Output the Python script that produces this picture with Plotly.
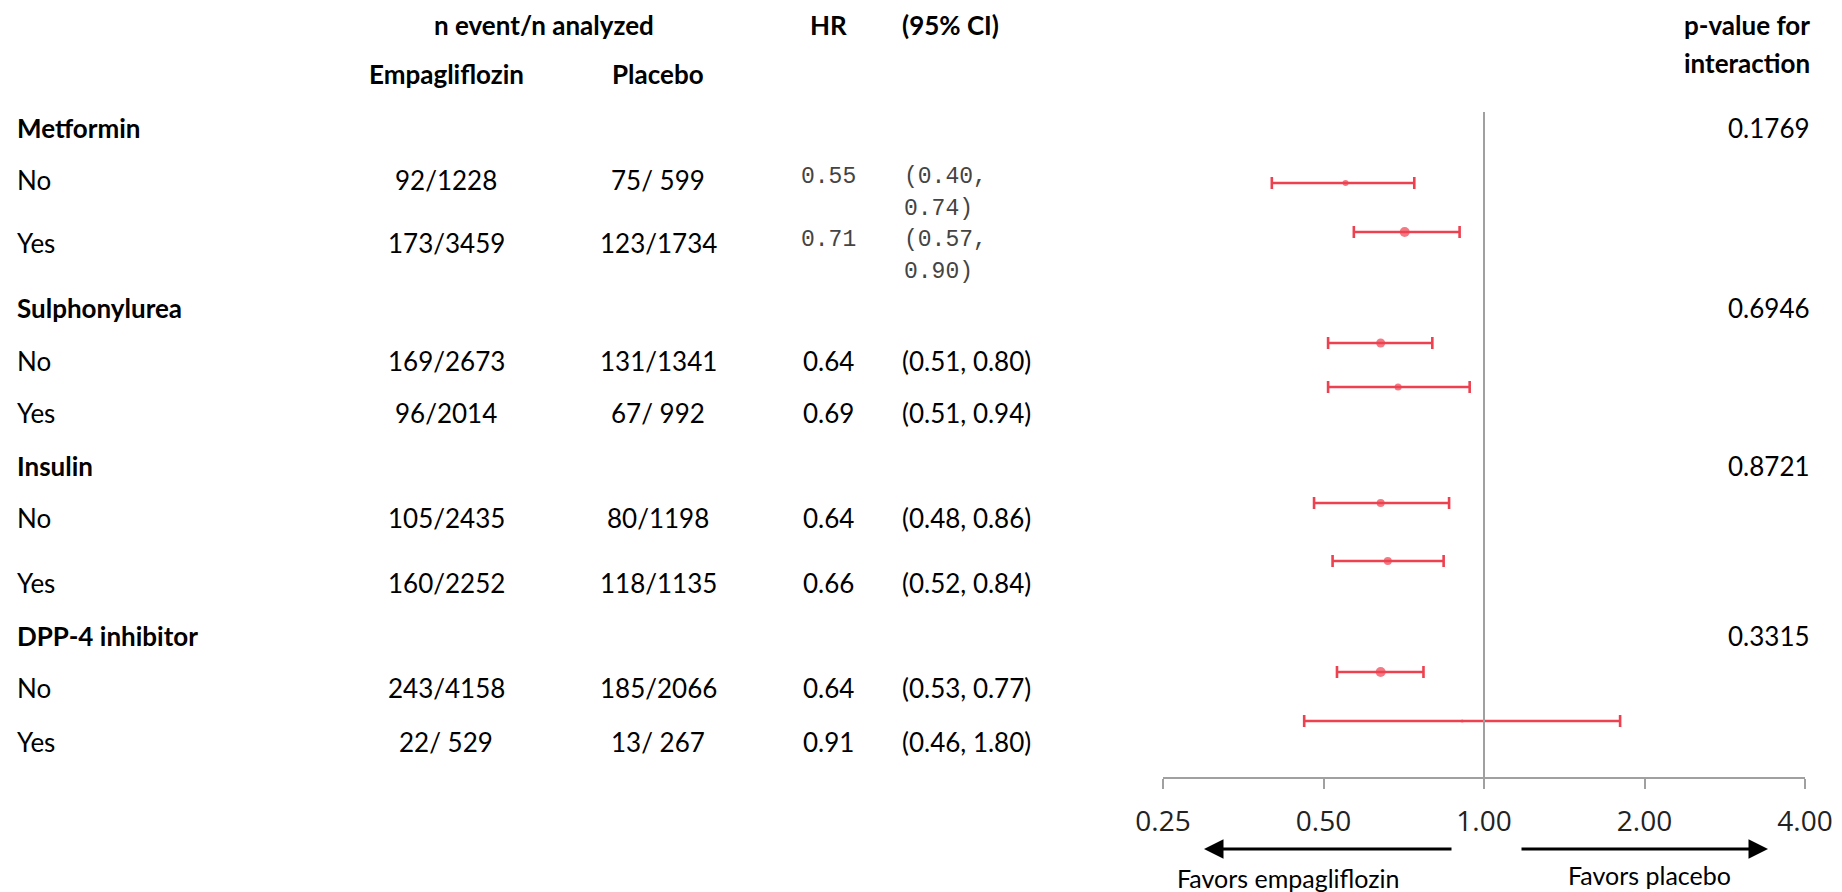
import plotly.graph_objects as go
import math

# ---------------- data ----------------
groups = ["Metformin", "Sulphonylurea", "Insulin", "DPP-4 inhibitor"]
p_interaction = ["0.1769", "0.6946", "0.8721", "0.3315"]
subgroups = ["No", "Yes", "No", "Yes", "No", "Yes", "No", "Yes"]
empa_events = ["92/1228", "173/3459", "169/2673", "96/2014", "105/2435", "160/2252", "243/4158", "22/ 529"]
placebo_events = ["75/ 599", "123/1734", "131/1341", "67/ 992", "80/1198", "118/1135", "185/2066", "13/ 267"]
hr = [0.55, 0.71, 0.64, 0.69, 0.64, 0.66, 0.64, 0.91]
ci_low = [0.40, 0.57, 0.51, 0.51, 0.48, 0.52, 0.53, 0.46]
ci_high = [0.74, 0.90, 0.80, 0.94, 0.86, 0.84, 0.77, 1.80]
weight_size = [6, 10, 9, 7, 8, 8, 10, 3]   # marker size (study weight)
mono_rows = [0, 1]                           # rows typeset in monospace
tick_vals = [0.25, 0.5, 1.0, 2.0, 4.0]
tick_text = ["0.25", "0.50", "1.00", "2.00", "4.00"]

# ---------------- layout (pixel positions in the page) ----------------
PAD = 8                      # default body margin of the html page
W, H = 1842 - PAD, 892 - PAD
header_y = [25, 74]
group_text_y = [128, 308, 466, 636]
row_text_y = [180, 243, 361, 413, 518, 583, 688, 742]
forest_y = [183, 232, 343, 387, 503, 561, 672, 721]
x_left = 16
x_empa = 446
x_pla = 658
x_hr = 828
x_ci = 901
x_p = 1811
axis_px0, axis_px1 = 1163, 1805
axis_y = 778
ref_top = 112

def px(x):
    return (x - PAD) / W

def py(y):
    return y - PAD

RED = "#EE4150"
GRAY = "#A0A0A0"
TXT = "#000000"
FONT = "Lato, 'Noto Sans', sans-serif"
MONO = "'Liberation Mono', 'DejaVu Sans Mono', monospace"

fig = go.Figure()

fig.add_trace(go.Scatter(
    x=hr, y=[py(v) for v in forest_y], mode="markers",
    marker=dict(color=RED, size=weight_size, line=dict(width=0)),
    error_x=dict(type="data", symmetric=False,
                 array=[h - m for h, m in zip(ci_high, hr)],
                 arrayminus=[m - l for m, l in zip(hr, ci_low)],
                 color=RED, thickness=2.6, width=6),
    showlegend=False, hoverinfo="skip",
))

fig.add_shape(type="line", xref="x", yref="y", x0=1, x1=1, y0=py(ref_top), y1=py(axis_y),
              line=dict(color=GRAY, width=2))

ann = []
def t(x, y, s, size=26, bold=False, anchor="center", font=FONT, color=TXT):
    ann.append(dict(xref="paper", yref="y", x=px(x), y=py(y), text=("<b>%s</b>" % s) if bold else s,
                    showarrow=False, xanchor=anchor, yanchor="middle", borderpad=0,
                    font=dict(family=font, size=size, color=color)))

# headers
t(544, header_y[0], "n event/n analyzed", bold=True)
t(828, header_y[0], "HR", bold=True)
t(x_ci, header_y[0], "(95% CI)", bold=True, anchor="left")
t(x_p, header_y[0], "p-value for", bold=True, anchor="right")
t(x_empa, header_y[1], "Empagliflozin", bold=True)
t(x_pla, header_y[1], "Placebo", bold=True)
t(x_p, 63, "interaction", bold=True, anchor="right")

for g, gy, p in zip(groups, group_text_y, p_interaction):
    t(x_left, gy, g, bold=True, anchor="left")
    t(x_p, gy, p, anchor="right")

for i, (s, y) in enumerate(zip(subgroups, row_text_y)):
    t(x_left, y, s, anchor="left")
    t(x_empa, y, empa_events[i])
    t(x_pla, y, placebo_events[i])
    if i in mono_rows:
        t(x_hr, y - 3, "%.2f" % hr[i], size=23, font=MONO, color="#444444")
        t(x_ci + 2, y - 3, "(%.2f," % ci_low[i], size=23, font=MONO, color="#444444", anchor="left")
        t(x_ci + 2, y + 29, "%.2f)" % ci_high[i], size=23, font=MONO, color="#444444", anchor="left")
    else:
        t(x_hr, y, "%.2f" % hr[i])
        t(x_ci, y, "(%.2f, %.2f)" % (ci_low[i], ci_high[i]), anchor="left")

# favors arrows
for head, tail in [(1204, 1453), (1768, 1520)]:
    ann.append(dict(xref="paper", yref="y", x=px(head), y=py(849), ax=tail - head, ay=0,
                    text="", showarrow=True,
                    arrowhead=2, arrowsize=1.3, arrowwidth=3, arrowcolor="#000000"))
t(1288, 878, "Favors empagliflozin", size=25)
t(1649, 875, "Favors placebo", size=25)

fig.update_layout(
    width=W, height=H, margin=dict(l=0, r=0, t=0, b=0, autoexpand=False),
    paper_bgcolor="white", plot_bgcolor="white",
    annotations=ann,
    xaxis=dict(type="log", domain=[px(axis_px0), px(axis_px1)],
               range=[math.log10(tick_vals[0]), math.log10(tick_vals[-1])],
               tickvals=tick_vals, ticktext=tick_text, ticks="outside", ticklen=10,
               tickwidth=2, tickcolor=GRAY, showline=True, linecolor=GRAY, linewidth=2,
               showgrid=False, zeroline=False, anchor="free", position=(H - py(axis_y)) / H,
               tickfont=dict(family="'Open Sans', sans-serif", size=28, color="#222222"),
               ticklabelstandoff=8, automargin=False),
    yaxis=dict(domain=[0, 1], range=[H, 0], visible=False, fixedrange=True, automargin=False),
)

fig.write_html("out.html")
